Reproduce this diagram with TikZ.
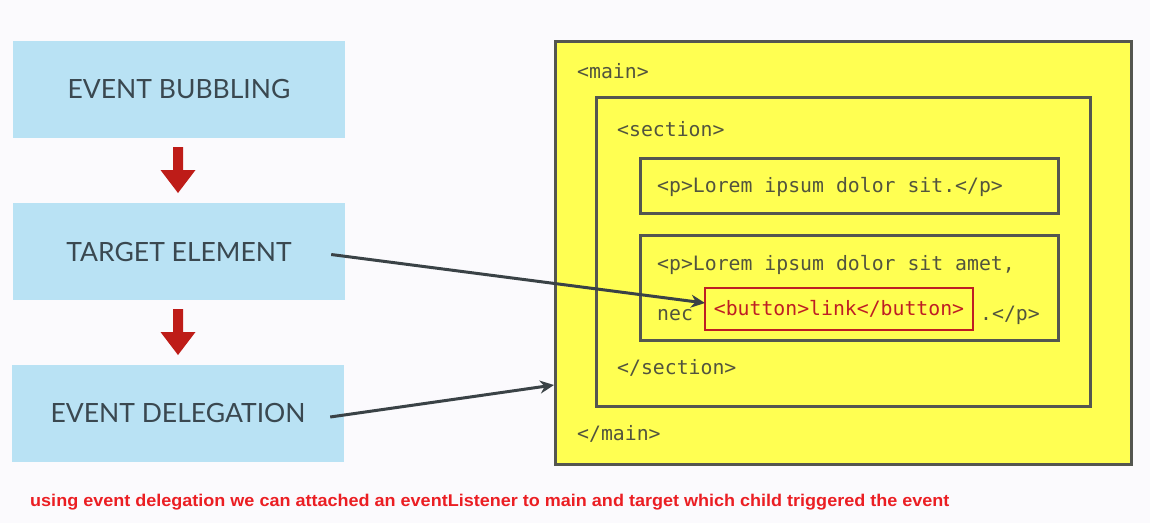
\documentclass[tikz,border=0pt]{standalone}
\usepackage{fontspec}
\setmainfont{Lato}
\setmonofont{DejaVu Sans Mono}
\newfontfamily\notefont{Liberation Sans}
\usetikzlibrary{arrows.meta, positioning}
\definecolor{bluebox}{RGB}{185,226,244}
\definecolor{titletext}{RGB}{58,72,80}
\definecolor{downred}{RGB}{190,28,24}
\definecolor{codeyellow}{RGB}{255,255,82}
\definecolor{codeframe}{RGB}{84,86,80}
\definecolor{codetext}{RGB}{82,84,62}
\definecolor{buttonred}{RGB}{190,30,36}
\definecolor{linkline}{RGB}{58,66,70}
\definecolor{notered}{RGB}{235,30,35}
\definecolor{paper}{RGB}{251,250,253}

\begin{document}
\begin{tikzpicture}[x=1pt, y=-1pt,
    stagebox/.style={fill=bluebox, minimum width=332pt, minimum height=97pt,
        inner sep=0pt, text=titletext, font=\fontsize{26.5}{31}\selectfont},
    frame/.style={draw=codeframe, line width=3pt, fill=codeyellow},
    code/.style={anchor=base west, inner sep=0pt, text=codetext,
        font=\ttfamily\fontsize{19.8}{23}\selectfont},
    downarrow/.style={fill=downred, draw=none},
    link/.style={draw=linkline, line width=3pt, -{Stealth[length=14pt, width=13pt]}}]

    \useasboundingbox[fill=paper] (0,0) rectangle (1150,523);

    % left column
    \node[stagebox] (bub) at (179,89.5) {EVENT BUBBLING};
    \node[stagebox] (tgt) at (179,251.5) {TARGET ELEMENT};
    \node[stagebox] (del) at (178,413) {EVENT DELEGATION};

    \foreach \top in {147,309} {
        \fill[downarrow] (173,\top) -- (183,\top) -- (183,\top+23) -- (195.5,\top+23)
            -- (178,\top+46) -- (160.5,\top+23) -- (173,\top+23) -- cycle;
    }

    % nested markup
    \draw[frame] (555,41) rectangle (1131,464);
    \draw[frame] (596,97) rectangle (1090,406);
    \draw[frame] (640,158) rectangle (1058,213);
    \draw[frame] (640,235) rectangle (1058,340);

    \node[code] (mo) at (577,78) {<main>};
    \node[code] (so) at (617,136) {<section>};
    \node[code] (p1) at (657,192) {<p>Lorem ipsum dolor sit.</p>};
    \node[code] (p2) at (657,270) {<p>Lorem ipsum dolor sit amet,};
    \node[code] (nec) at (657,320) {nec};
    \node[draw=buttonred, line width=2.6pt, fill=codeyellow, minimum width=268pt,
        minimum height=42pt, inner sep=0pt, text=buttonred,
        font=\ttfamily\fontsize{19.8}{23}\selectfont] (btn) at (839,309) {<button>link</button>};
    \node[code] (pc) at (980,320) {.</p>};
    \node[code] (sc) at (617,374) {</section>};
    \node[code] (mc) at (577,440) {</main>};

    \coordinate (btnin) at (705,303);
    \coordinate (mainin) at (554,385);

    \draw[link] ([xshift=-14pt, yshift=-3pt]tgt.east) -- (btnin);
    \draw[link] ([xshift=-14pt, yshift=-4pt]del.east) -- (mainin);

    \node[anchor=base west, inner sep=0pt, text=notered, xscale=1.06,
        font=\notefont\bfseries\fontsize{17}{20}\selectfont] (note) at (30,506)
        {using event delegation we can attached an eventListener to main and target which child triggered the event};
\end{tikzpicture}
\end{document}
